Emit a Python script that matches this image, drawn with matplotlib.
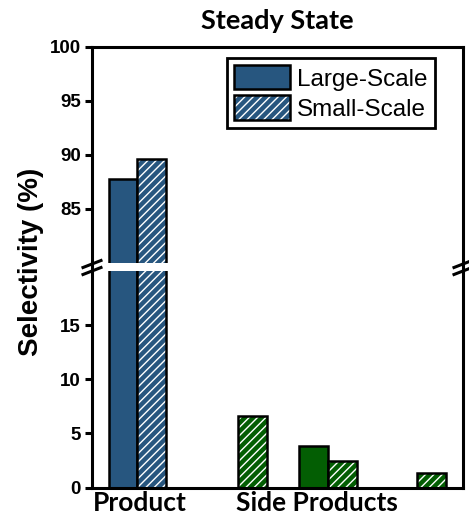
import matplotlib
matplotlib.use("Agg")
import matplotlib.pyplot as plt
from matplotlib.patches import Patch
from matplotlib.legend_handler import HandlerTuple
from matplotlib.lines import Line2D

# data
categories = ["Product", "Side A", "Side B", "Side C"]
large_scale = [87.8, 0.0, 3.85, 0.0]
small_scale = [89.6, 6.6, 2.43, 1.3]
group_labels = ["Product", "Side Products"]

# layout (x in units of ~90 px)
group_pos = [0.0, 1.12, 2.12, 3.11]
label_pos = [0.03, 1.99]
bw = 0.32

blue = "#27567f"
green = "#035e03"
colors = [blue, green, green, green]

plt.rcParams["hatch.color"] = "white"
plt.rcParams["hatch.linewidth"] = 1.0

W, H = 469, 516
fig = plt.figure(figsize=(W / 100, H / 100), dpi=100)

L, R = 92 / W, 463 / W
ax1 = fig.add_axes([L, 1 - 263 / H, R - L, (263 - 47) / H])
ax2 = fig.add_axes([L, 1 - 487.5 / H, R - L, (487.5 - 271) / H])

def draw(ax):
    for i in range(len(categories)):
        xl = group_pos[i] - bw / 2
        xs = group_pos[i] + bw / 2
        ax.bar(xl, large_scale[i], bw, color=colors[i], edgecolor="black", linewidth=1.8, zorder=2)
        # hatched bar: white hatch first, black outline on top
        ax.bar(xs, small_scale[i], bw, color=colors[i], hatch="////", linewidth=0, zorder=2)
        ax.bar(xs, small_scale[i], bw, fill=False, edgecolor="black", linewidth=1.8, zorder=3)
    ax.set_xlim(-0.505, 3.617)
    for s in ax.spines.values():
        s.set_linewidth(2.2)
    ax.tick_params(axis="y", length=5, width=2.2, labelsize=13.5, pad=3)

draw(ax1)
draw(ax2)

ax1.set_ylim(80, 100)
ax1.set_yticks([85, 90, 95, 100])
ax1.set_xticks([])
ax1.spines["bottom"].set_visible(False)

ax2.set_ylim(0, 20)
ax2.set_yticks([0, 5, 10, 15])
ax2.spines["top"].set_visible(False)
ax2.set_xticks(label_pos)
ax2.set_xticklabels(group_labels, fontfamily="Lato", fontweight="bold", fontsize=19)
ax2.tick_params(axis="x", length=0, pad=2.5)

for ax in (ax1, ax2):
    for t in ax.get_yticklabels():
        t.set_fontfamily("Liberation Sans")
        t.set_fontweight("bold")

ax1.set_title("Steady State", fontfamily="Lato", fontweight="bold", fontsize=19.5, pad=13)

fig.text(31 / W, 1 - 262 / H, "Selectivity (%)", rotation=90, ha="center", va="center",
         fontfamily="Liberation Sans", fontweight="bold", fontsize=20)

# spines through the gap and break marks
for xp in (L, R):
    fig.add_artist(Line2D([xp, xp], [1 - 271 / H, 1 - 263 / H], color="black", lw=2.2))
    cx = xp * W
    for cy in (264, 271):
        fig.add_artist(Line2D([(cx - 9) / W, (cx + 9) / W], [1 - (cy + 3.5) / H, 1 - (cy - 3.5) / H],
                              color="black", lw=2.2))

# legend
h_large = Patch(facecolor=blue, edgecolor="black", linewidth=1.8)
h_small_fill = Patch(facecolor=blue, hatch="////", linewidth=0)
h_small_edge = Patch(fill=False, edgecolor="black", linewidth=1.8)
leg = ax1.legend([(h_large,), (h_small_fill, h_small_edge)], ["Large-Scale", "Small-Scale"],
                 handler_map={tuple: HandlerTuple(ndivide=1, pad=0)},
                 loc="upper right", bbox_to_anchor=((435 - 92) / 371, 1 - 11 / 216),
                 borderaxespad=0, fancybox=False, edgecolor="black", framealpha=1,
                 prop={"family": "Liberation Sans", "size": 17.5},
                 handlelength=2.3, handleheight=1.15, handletextpad=0.3,
                 labelspacing=0.2, borderpad=0.3)
leg.get_frame().set_linewidth(2.0)

fig.savefig("out.png", dpi=100)
